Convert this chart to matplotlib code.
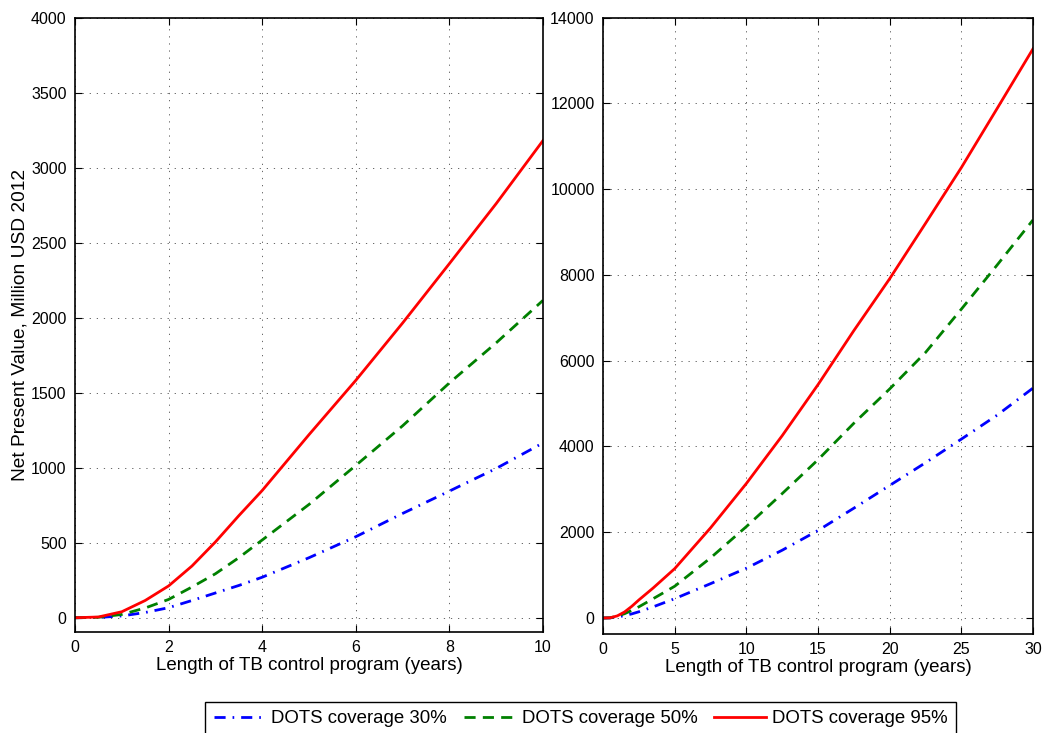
import matplotlib
matplotlib.use("Agg")
import matplotlib.pyplot as plt

plt.rcParams['font.family'] = ['Liberation Sans', 'DejaVu Sans']

# left panel: first 10 years
years_short = [0, 0.5, 1, 1.5, 2, 2.5, 3, 3.5, 4, 5, 6, 7, 8, 9, 10]
npv30_short = [0, 2, 12, 35, 67, 115, 165, 215, 270, 400, 540, 695, 844, 995, 1165]
npv50_short = [0, 3, 22, 65, 122, 205, 293, 400, 518, 755, 1015, 1279, 1565, 1832, 2115]
npv95_short = [0, 5, 40, 115, 212, 345, 505, 680, 848, 1220, 1582, 1964, 2360, 2760, 3180]

# right panel: 30 years
years_long = [0, 0.5, 1, 1.5, 2, 2.5, 3.5, 5, 7.5, 10, 12.5, 15, 17.5, 20, 22.5, 25, 27.5, 30]
npv30_long = [0, 3, 25, 55, 95, 145, 260, 450, 800, 1160, 1580, 2040, 2560, 3090, 3620, 4170, 4730, 5360]
npv50_long = [0, 5, 45, 100, 175, 260, 450, 740, 1400, 2130, 2900, 3690, 4540, 5340, 6190, 7200, 8230, 9280]
npv95_long = [0, 5, 50, 140, 270, 420, 700, 1150, 2100, 3135, 4250, 5440, 6700, 7910, 9200, 10500, 11880, 13270]

labels = ['DOTS coverage 30%', 'DOTS coverage 50%', 'DOTS coverage 95%']

fig = plt.figure(figsize=(10.45, 7.33), dpi=100)
ax1 = fig.add_axes([75 / 1045, 101 / 733, 468 / 1045, 614.5 / 733])
ax2 = fig.add_axes([603 / 1045, 99 / 733, 430 / 1045, 616.5 / 733])


def draw(ax, x, y30, y50, y95):
    l1, = ax.plot(x, y30, color='blue', lw=2, dashes=(4, 2.5, 0.6, 2.5))
    l2, = ax.plot(x, y50, color='green', lw=2, dashes=(4, 2.6))
    l3, = ax.plot(x, y95, color='red', lw=2)
    ax.grid(True, linestyle=(0, (1.5, 7)), color='0.3', lw=0.6)
    ax.tick_params(direction='in', top=True, right=True, length=5, labelsize=11.5, pad=6)
    for s in ax.spines.values():
        s.set_linewidth(1.2)
    ax.set_xlabel('Length of TB control program (years)', fontsize=13.5, labelpad=1)
    return [l1, l2, l3]


handles = draw(ax1, years_short, npv30_short, npv50_short, npv95_short)
ax1.set_xlim(0, 10)
ax1.set_xticks([0, 2, 4, 6, 8, 10])
ax1.set_yticks(range(0, 4001, 500))
ax1.set_ylim(-95, 4000)
ax1.set_ylabel('Net Present Value, Million USD 2012', fontsize=13.8, labelpad=1.5)

draw(ax2, years_long, npv30_long, npv50_long, npv95_long)
ax2.set_xlim(0, 30)
ax2.set_yticks(range(0, 14001, 2000))
ax2.set_ylim(-373, 14000)

leg = fig.legend(handles, labels, loc='lower center', bbox_to_anchor=(580.5 / 1045, -0.016),
                 ncol=3, fontsize=13.4, fancybox=False, framealpha=1, edgecolor='black',
                 handlelength=2.8, handletextpad=0.3, columnspacing=0.9, borderpad=0.45)
leg.get_frame().set_linewidth(1.0)

fig.savefig('out.png', dpi=100)
